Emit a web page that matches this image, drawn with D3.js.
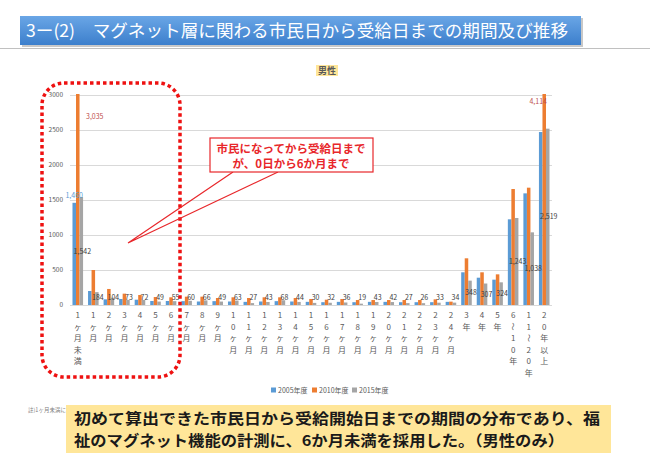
<!DOCTYPE html>
<html lang="ja">
<head>
  <meta charset="UTF-8">
  <title>マグネット層 期間分布</title>
  <style>
    body {
      margin: 0;
      padding: 0;
      background-color: #ffffff;
      font-family: "Noto Sans CJK JP", "Noto Sans", sans-serif;
    }
    svg {
      display: block;
    }
    .grid line {
      stroke: #d9d9d9;
      stroke-width: 1;
    }
    .tick-label {
      font-size: 6.5px;
      fill: #595959;
    }
    .cat-label {
      font-size: 8px;
      fill: #595959;
    }
    .val-label {
      font-size: 7px;
      fill: #404040;
    }
  </style>
</head>
<body>
  <div id="chart"></div>

  <script src="https://d3js.org/d3.v7.min.js"></script>
  <script>
    // categories (x axis)
    const categories = [
      "1ヶ月未満", "1ヶ月", "2ヶ月", "3ヶ月", "4ヶ月", "5ヶ月", "6ヶ月",
      "7ヶ月", "8ヶ月", "9ヶ月", "10ヶ月", "11ヶ月", "12ヶ月", "13ヶ月",
      "14ヶ月", "15ヶ月", "16ヶ月", "17ヶ月", "18ヶ月", "19ヶ月", "20ヶ月",
      "21ヶ月", "22ヶ月", "23ヶ月", "24ヶ月",
      "3年", "4年", "5年", "6～10年", "11～20年", "20年以上"
    ];

    const seriesNames = ["2005年度", "2010年度", "2015年度"];

    // values
    const v2005 = [1460, 200, 81, 86, 76, 57, 57,
      55, 50, 55, 50, 45, 50, 55, 50, 45, 40, 45, 40, 45, 45, 40, 40, 40, 45,
      467, 390, 362, 1224, 1595, 2471];
    const v2010 = [3035, 500, 229, 162, 143, 114, 110,
      119, 119, 100, 110, 100, 110, 110, 100, 86, 76, 86, 71, 71, 71, 71, 71, 81, 48,
      667, 467, 438, 1657, 1676, 4114];
    const v2015 = [1542, 184, 104, 73, 72, 49, 55,
      60, 66, 49, 63, 27, 43, 68, 44, 30, 32, 36, 19, 43, 42, 27, 26, 33, 34,
      348, 307, 324, 1243, 1038, 2519];

    const yTicks = [0, 500, 1000, 1500, 2000, 2500, 3000];

    // which points carry a label (2015 is labelled everywhere)
    const labeled2005 = [0];
    const labeled2010 = [0, 30];

    const colors = ["#5b9bd5", "#ed7d31", "#a5a5a5"];
    const allSeries = [v2005, v2010, v2015];

    const W = 650, H = 459;
    const plot = { left: 70, right: 552, top: 95, bottom: 305 };

    const svg = d3.select('#chart').append('svg')
      .attr('width', W)
      .attr('height', H);

    // ---- title bar ----
    const defs = svg.append('defs');
    const grad = defs.append('linearGradient')
      .attr('id', 'titleGrad').attr('x1', 0).attr('y1', 0).attr('x2', 0).attr('y2', 1);
    grad.append('stop').attr('offset', '0%').attr('stop-color', '#6aa6e6');
    grad.append('stop').attr('offset', '100%').attr('stop-color', '#3c7fcc');

    svg.append('rect')
      .attr('x', 22).attr('y', 18).attr('width', 561).attr('height', 29)
      .attr('fill', '#c8c8c8');
    svg.append('rect')
      .attr('x', 20).attr('y', 16).attr('width', 561).attr('height', 29)
      .attr('fill', 'url(#titleGrad)');
    svg.append('text')
      .attr('x', 26).attr('y', 37)
      .attr('font-size', 17)
      .attr('fill', '#ffffff')
      .attr('textLength', 542)
      .attr('lengthAdjust', 'spacingAndGlyphs')
      .text('3ー(2)　マグネット層に関わる市民日から受給日までの期間及び推移');

    svg.append('line')
      .attr('x1', 0).attr('x2', W).attr('y1', 48.5).attr('y2', 48.5)
      .attr('stroke', '#c0c0c0').attr('stroke-width', 1);

    // ---- chart title ----
    svg.append('rect')
      .attr('x', 316).attr('y', 65).attr('width', 22).attr('height', 11)
      .attr('fill', '#ffe699');
    svg.append('text')
      .attr('x', 327).attr('y', 74)
      .attr('text-anchor', 'middle')
      .attr('font-size', 9).attr('font-weight', 'bold')
      .attr('fill', '#595959')
      .text('男性');

    // ---- scales ----
    const x0 = d3.scaleBand()
      .domain(categories)
      .range([plot.left, plot.right])
      .paddingInner(0.32)
      .paddingOuter(0.16);

    const x1 = d3.scaleBand()
      .domain(seriesNames)
      .range([0, x0.bandwidth()]);

    const y = d3.scaleLinear()
      .domain([0, 3000])
      .range([plot.bottom, plot.top]);

    // gridlines
    svg.append('g').attr('class', 'grid')
      .selectAll('line')
      .data(yTicks)
      .enter().append('line')
      .attr('x1', plot.left).attr('x2', plot.right)
      .attr('y1', d => Math.round(y(d)) + 0.5)
      .attr('y2', d => Math.round(y(d)) + 0.5);

    // y axis labels
    svg.append('g')
      .selectAll('text')
      .data(yTicks)
      .enter().append('text')
      .attr('class', 'tick-label')
      .attr('x', 63)
      .attr('y', d => y(d) + 2.3)
      .attr('text-anchor', 'end')
      .text(d => d);

    // clip for bars that run past 3000
    defs.append('clipPath').attr('id', 'plotClip')
      .append('rect')
      .attr('x', plot.left).attr('y', plot.top - 1)
      .attr('width', plot.right - plot.left)
      .attr('height', plot.bottom - plot.top + 1);

    // bars
    const rows = categories.map((c, i) => ({
      cat: c,
      values: seriesNames.map((s, k) => ({ series: s, k: k, value: allSeries[k][i] }))
    }));

    const groups = svg.append('g')
      .attr('clip-path', 'url(#plotClip)')
      .selectAll('g')
      .data(rows)
      .enter().append('g')
      .attr('transform', d => `translate(${x0(d.cat)},0)`);

    groups.selectAll('rect')
      .data(d => d.values)
      .enter().append('rect')
      .attr('x', d => x1(d.series))
      .attr('width', x1.bandwidth())
      .attr('y', d => y(d.value))
      .attr('height', d => y(0) - y(d.value))
      .attr('fill', d => colors[d.k]);

    // 2015 labels, centred in the bar but kept above the axis
    svg.append('g')
      .selectAll('text')
      .data(categories)
      .enter().append('text')
      .attr('class', 'val-label')
      .attr('x', (c, i) => x0(c) + x1(seriesNames[2]) + x1.bandwidth() / 2 + 1)
      .attr('y', (c, i) => Math.min((y(v2015[i]) + y(0)) / 2, y(0) - 8) + 2.5)
      .attr('text-anchor', 'middle')
      .text((c, i) => d3.format(',')(v2015[i]));

    // 2005 labels (outside end)
    svg.append('g')
      .selectAll('text')
      .data(labeled2005)
      .enter().append('text')
      .attr('font-size', 7)
      .attr('fill', '#5b9bd5')
      .attr('x', i => x0(categories[i]) + x1(seriesNames[0]) + x1.bandwidth() / 2)
      .attr('y', i => y(v2005[i]) - 5)
      .attr('text-anchor', 'middle')
      .text(i => d3.format(',')(v2005[i]));

    // 2010 labels (bars clipped at the top, labels moved by hand in the original)
    const shift2010 = { 0: [17, 24], 30: [-6, 9] };
    svg.append('g')
      .selectAll('text')
      .data(labeled2010)
      .enter().append('text')
      .attr('font-size', 7)
      .attr('fill', '#c0504d')
      .attr('x', i => x0(categories[i]) + x1(seriesNames[1]) + x1.bandwidth() / 2 + shift2010[i][0])
      .attr('y', i => Math.max(y(v2010[i]), plot.top) + shift2010[i][1])
      .attr('text-anchor', 'middle')
      .text(i => d3.format(',')(v2010[i]));

    // x labels, stacked vertically
    const catG = svg.append('g')
      .selectAll('g')
      .data(categories)
      .enter().append('g')
      .attr('transform', c => `translate(${x0(c) + x0.bandwidth() / 2},0)`);

    catG.each(function(c) {
      const g = d3.select(this);
      Array.from(c).forEach((ch, j) => {
        const cy = 315 + j * 11.5;
        const t = g.append('text')
          .attr('class', 'cat-label')
          .attr('x', 0)
          .attr('y', cy + 3)
          .attr('text-anchor', 'middle')
          .text(ch);
        if (ch === '～') t.attr('transform', `rotate(90,0,${cy})`);
      });
    });

    // legend
    const legendX = [271, 312, 352];
    const legend = svg.append('g')
      .selectAll('g')
      .data(seriesNames)
      .enter().append('g')
      .attr('transform', (s, i) => `translate(${legendX[i]},390)`);
    legend.append('rect')
      .attr('x', 0).attr('y', -2.5).attr('width', 5).attr('height', 5)
      .attr('fill', (s, i) => colors[i]);
    legend.append('text')
      .attr('x', 7).attr('y', 2.5)
      .attr('font-size', 7)
      .attr('fill', '#595959')
      .text(s => s);

    // red dotted frame round the first 7 categories
    svg.append('rect')
      .attr('x', 42).attr('y', 83).attr('width', 138).attr('height', 294)
      .attr('rx', 22).attr('ry', 22)
      .attr('fill', 'none')
      .attr('stroke', '#ee1111')
      .attr('stroke-width', 3.5)
      .attr('stroke-dasharray', '3.5,3');

    // callout
    svg.append('polyline')
      .attr('points', '233,172 128,243 278,172')
      .attr('fill', 'none')
      .attr('stroke', '#e8272b')
      .attr('stroke-width', 1.2);
    svg.append('rect')
      .attr('x', 210).attr('y', 138).attr('width', 163).attr('height', 34)
      .attr('fill', '#ffffff')
      .attr('stroke', '#e8272b')
      .attr('stroke-width', 1.2);
    const callout = svg.append('text')
      .attr('text-anchor', 'middle')
      .attr('font-size', 11.5)
      .attr('font-weight', 'bold')
      .attr('fill', '#e8272b');
    callout.append('tspan').attr('x', 291).attr('y', 153).text('市民になってから受給日まで');
    callout.append('tspan').attr('x', 291).attr('y', 168).text('が、0日から6か月まで');

    // footnote (mostly hidden behind the box)
    svg.append('text')
      .attr('x', 28).attr('y', 412)
      .attr('font-size', 5.5)
      .attr('fill', '#7f7f7f')
      .text('註)1ヶ月未満に');

    // yellow comment box
    svg.append('rect')
      .attr('x', 66).attr('y', 405).attr('width', 545).attr('height', 48)
      .attr('fill', '#ffe699');
    svg.append('text')
      .attr('x', 74).attr('y', 424)
      .attr('font-size', 15)
      .attr('font-weight', 'bold')
      .attr('fill', '#1a1a1a')
      .attr('textLength', 526)
      .attr('lengthAdjust', 'spacingAndGlyphs')
      .text('初めて算出できた市民日から受給開始日までの期間の分布であり、福');
    svg.append('text')
      .attr('x', 74).attr('y', 446)
      .attr('font-size', 15)
      .attr('font-weight', 'bold')
      .attr('fill', '#1a1a1a')
      .attr('textLength', 490)
      .attr('lengthAdjust', 'spacingAndGlyphs')
      .text('祉のマグネット機能の計測に、6か月未満を採用した。（男性のみ）');
  </script>
</body>
</html>
